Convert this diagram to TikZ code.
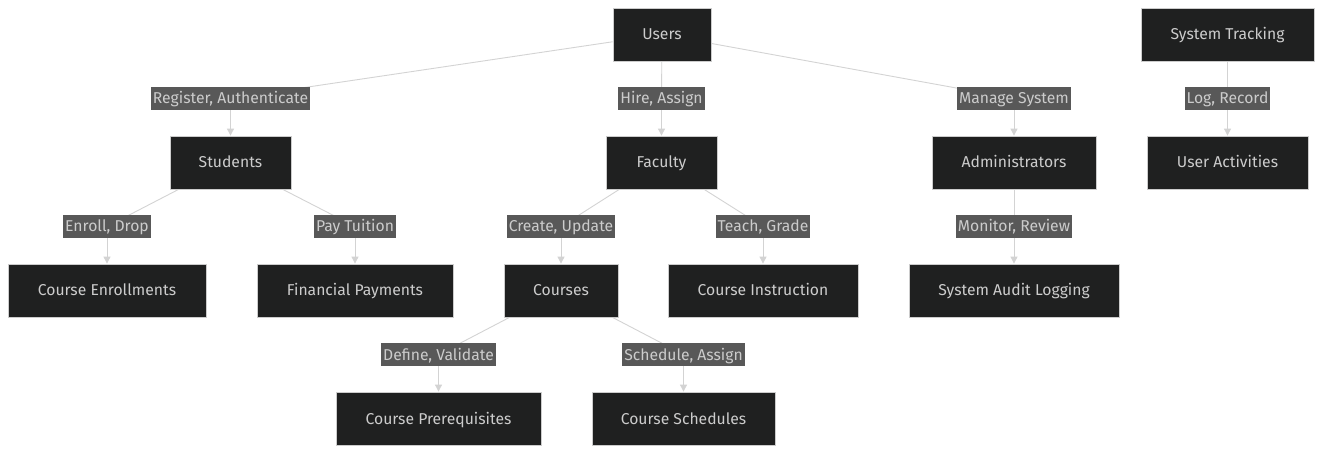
\documentclass[tikz,border=0pt]{standalone}
\usepackage{fontspec}
\setmainfont{Fira Sans}
\usetikzlibrary{arrows.meta,backgrounds}
\definecolor{nodebg}{HTML}{1F2020}
\definecolor{nodeborder}{HTML}{CCCCCC}
\definecolor{txt}{HTML}{CCCCCC}
\definecolor{lblbg}{HTML}{585858}
\definecolor{edgec}{HTML}{D3D3D3}
\begin{document}
\begin{tikzpicture}[x=1pt,y=-1pt,
  box/.style={draw=nodeborder, fill=nodebg, text=txt, minimum height=53pt, inner sep=0pt, line width=0.8pt, font=\fontsize{15.7}{18}\selectfont, text height=13pt, text depth=2pt},
  lbl/.style={fill=lblbg, text=txt, inner xsep=2pt, inner ysep=0pt, minimum height=23pt, font=\fontsize{15.7}{18}\selectfont, text height=13pt, text depth=2pt},
  link/.style={draw=edgec, line width=0.9pt},
  arr/.style={-{Triangle[length=7pt,width=7pt]}}]
\useasboundingbox (0,0) rectangle (1323,454);
% nodes
\node[box, minimum width=98pt]  (users)   at (662,34.5)    {Users};
\node[box, minimum width=173pt] (track)   at (1227.5,34.5) {System Tracking};
\node[box, minimum width=121pt] (stud)    at (230.5,162.5) {Students};
\node[box, minimum width=111pt] (fac)     at (661.5,162.5) {Faculty};
\node[box, minimum width=164pt] (admin)   at (1014,162.5)  {Administrators};
\node[box, minimum width=161pt] (act)     at (1227.5,162.5){User Activities};
\node[box, minimum width=198pt] (enr)     at (107,290.5)   {Course Enrollments};
\node[box, minimum width=196pt] (pay)     at (355,290.5)   {Financial Payments};
\node[box, minimum width=114pt] (courses) at (561,290.5)   {Courses};
\node[box, minimum width=190pt] (instr)   at (763,290.5)   {Course Instruction};
\node[box, minimum width=210pt] (audit)   at (1014,290.5)  {System Audit Logging};
\node[box, minimum width=205pt] (prereq)  at (438.5,418.5) {Course Prerequisites};
\node[box, minimum width=183pt] (sched)   at (683.5,418.5) {Course Schedules};
% edge labels
\node[lbl] (lreg)  at (230.5,98.5)  {Register, Authenticate};
\node[lbl] (lhire) at (661.5,98.5)  {Hire, Assign};
\node[lbl] (lman)  at (1014,98.5)   {Manage System};
\node[lbl] (llog)  at (1227.5,98.5) {Log, Record};
\node[lbl] (lenr)  at (107,226.5)   {Enroll, Drop};
\node[lbl] (lpay)  at (355,226.5)   {Pay Tuition};
\node[lbl] (lcre)  at (561,226.5)   {Create, Update};
\node[lbl] (ltea)  at (763,226.5)   {Teach, Grade};
\node[lbl] (lmon)  at (1014,226.5)  {Monitor, Review};
\node[lbl] (ldef)  at (438.5,354.5) {Define, Validate};
\node[lbl] (lsch)  at (683.5,354.5) {Schedule, Assign};
% connectors
\begin{scope}[on background layer]
\draw[link] (users) -- (lreg.center);  \draw[link,arr] (lreg.center) -- (stud.north);
\draw[link] (users) -- (lhire.center); \draw[link,arr] (lhire.center) -- (fac.north);
\draw[link] (users) -- (lman.center);  \draw[link,arr] (lman.center) -- (admin.north);
\draw[link] (track) -- (llog.center);  \draw[link,arr] (llog.center) -- (act.north);
\draw[link] (stud) -- (lenr.center);   \draw[link,arr] (lenr.center) -- (enr.north);
\draw[link] (stud) -- (lpay.center);   \draw[link,arr] (lpay.center) -- (pay.north);
\draw[link] (fac) -- (lcre.center);    \draw[link,arr] (lcre.center) -- (courses.north);
\draw[link] (fac) -- (ltea.center);    \draw[link,arr] (ltea.center) -- (instr.north);
\draw[link] (admin) -- (lmon.center);  \draw[link,arr] (lmon.center) -- (audit.north);
\draw[link] (courses) -- (ldef.center);\draw[link,arr] (ldef.center) -- (prereq.north);
\draw[link] (courses) -- (lsch.center);\draw[link,arr] (lsch.center) -- (sched.north);
\end{scope}
\end{tikzpicture}
\end{document}
